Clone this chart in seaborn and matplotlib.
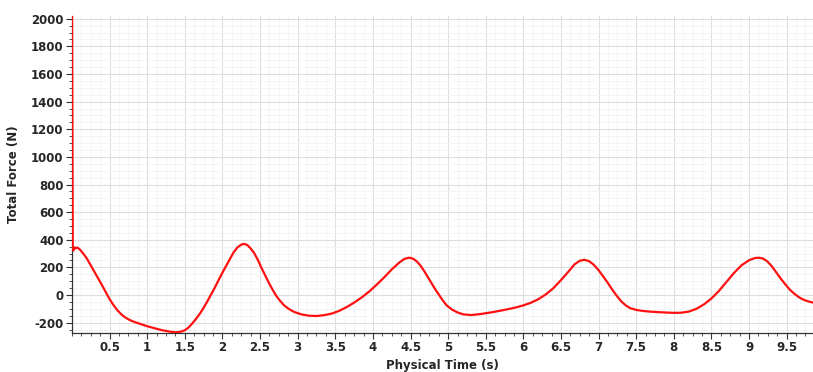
import numpy as np
import pandas as pd
import matplotlib
matplotlib.use("Agg")
import matplotlib.pyplot as plt
import seaborn as sns
from matplotlib.ticker import MultipleLocator, FixedLocator, FuncFormatter

# Total force vs physical time
time_s = [0.000, 0.010, 0.020, 0.035, 0.050, 0.070, 0.100, 0.150, 0.200, 0.250,
          0.300, 0.350, 0.400, 0.450, 0.500, 0.550, 0.600, 0.650, 0.700, 0.750,
          0.800, 0.900, 1.000, 1.100, 1.200, 1.300, 1.380, 1.450, 1.500, 1.550,
          1.600, 1.650, 1.700, 1.750, 1.800, 1.850, 1.900, 1.950, 2.000, 2.050,
          2.100, 2.150, 2.200, 2.250, 2.290, 2.330, 2.370, 2.420, 2.470, 2.520,
          2.570, 2.620, 2.670, 2.720, 2.770, 2.820, 2.880, 2.950, 3.050, 3.150,
          3.250, 3.350, 3.450, 3.550, 3.650, 3.750, 3.850, 3.950, 4.050, 4.150,
          4.250, 4.350, 4.420, 4.480, 4.530, 4.580, 4.630, 4.680, 4.730, 4.780,
          4.830, 4.880, 4.930, 4.980, 5.050, 5.120, 5.200, 5.300, 5.400, 5.500,
          5.600, 5.700, 5.800, 5.900, 6.000, 6.100, 6.200, 6.300, 6.400, 6.500,
          6.600, 6.680, 6.750, 6.810, 6.870, 6.930, 7.000, 7.060, 7.120, 7.180,
          7.240, 7.300, 7.360, 7.420, 7.500, 7.600, 7.700, 7.800, 7.900, 8.000,
          8.100, 8.200, 8.300, 8.400, 8.500, 8.600, 8.700, 8.800, 8.900, 9.000,
          9.080, 9.130, 9.180, 9.240, 9.300, 9.360, 9.420, 9.480, 9.540, 9.600,
          9.660, 9.720, 9.780, 9.850]
force_n = [2060, 330, 322, 345, 338, 344, 332, 300, 262, 214,
           166, 118, 70, 20, -30, -72, -108, -137, -160, -176,
           -189, -208, -226, -241, -255, -265, -270, -265, -255, -235,
           -205, -172, -135, -92, -45, 5, 55, 110, 162, 212,
           262, 310, 345, 365, 370, 362, 340, 305, 255, 195,
           140, 85, 35, -10, -45, -75, -100, -122, -140, -150,
           -152, -146, -135, -115, -88, -55, -18, 25, 75, 128,
           185, 235, 262, 270, 264, 245, 215, 175, 130, 85,
           40, 0, -40, -75, -105, -125, -140, -145, -140, -132,
           -123, -113, -102, -90, -75, -56, -30, 5, 50, 108,
           170, 222, 248, 255, 246, 222, 180, 135, 90, 40,
           -5, -45, -75, -95, -108, -116, -121, -124, -127, -129,
           -128, -120, -100, -68, -25, 30, 95, 160, 215, 252,
           268, 270, 265, 245, 210, 165, 120, 78, 40, 10,
           -15, -33, -45, -55]

x_ticks = [0.5, 1, 1.5, 2, 2.5, 3, 3.5, 4, 4.5, 5, 5.5, 6, 6.5, 7, 7.5, 8, 8.5, 9, 9.5]
y_ticks = [-200, 0, 200, 400, 600, 800, 1000, 1200, 1400, 1600, 1800, 2000]

df = pd.DataFrame({"Physical Time (s)": time_s, "Total Force (N)": force_n})

sns.set_style("white")
plt.rcParams["font.family"] = ["DejaVu Sans"]

fig = plt.figure(figsize=(8.13, 3.72), dpi=100)
ax = fig.add_axes([72 / 813, 39 / 372, 741 / 813, 317 / 372])

sns.lineplot(data=df, x="Physical Time (s)", y="Total Force (N)", ax=ax,
             color="#ff1010", linewidth=1.6, zorder=5)

ax.set_xlim(0, 9.85)
ax.set_ylim(-275, 2020)

ax.xaxis.set_major_locator(FixedLocator(x_ticks))
ax.xaxis.set_minor_locator(MultipleLocator(0.125))
ax.yaxis.set_major_locator(FixedLocator(y_ticks))
ax.yaxis.set_minor_locator(MultipleLocator(50))
ax.xaxis.set_major_formatter(FuncFormatter(lambda v, p: "%g" % v))
ax.yaxis.set_major_formatter(FuncFormatter(lambda v, p: "%d" % v))

ax.grid(which="major", color="#dedede", linewidth=0.8)
ax.grid(which="minor", color="#f3f3f3", linewidth=0.6)
ax.set_axisbelow(True)

for side in ["top", "right"]:
    ax.spines[side].set_visible(False)
for side in ["left", "bottom"]:
    ax.spines[side].set_color("#333333")
    ax.spines[side].set_linewidth(0.9)

ax.tick_params(which="major", direction="out", length=4, width=0.8, color="#333333",
               labelsize=8.5, pad=2, left=True, bottom=True)
ax.tick_params(which="minor", direction="out", length=2, width=0.6, color="#333333",
               left=True, bottom=True)
for lab in ax.get_xticklabels() + ax.get_yticklabels():
    lab.set_fontweight("bold")

ax.set_xlabel("Physical Time (s)", fontsize=8.5, fontweight="bold", labelpad=3)
ax.set_ylabel("Total Force (N)", fontsize=8.5, fontweight="bold", labelpad=8)

fig.savefig("out.png", dpi=100)
